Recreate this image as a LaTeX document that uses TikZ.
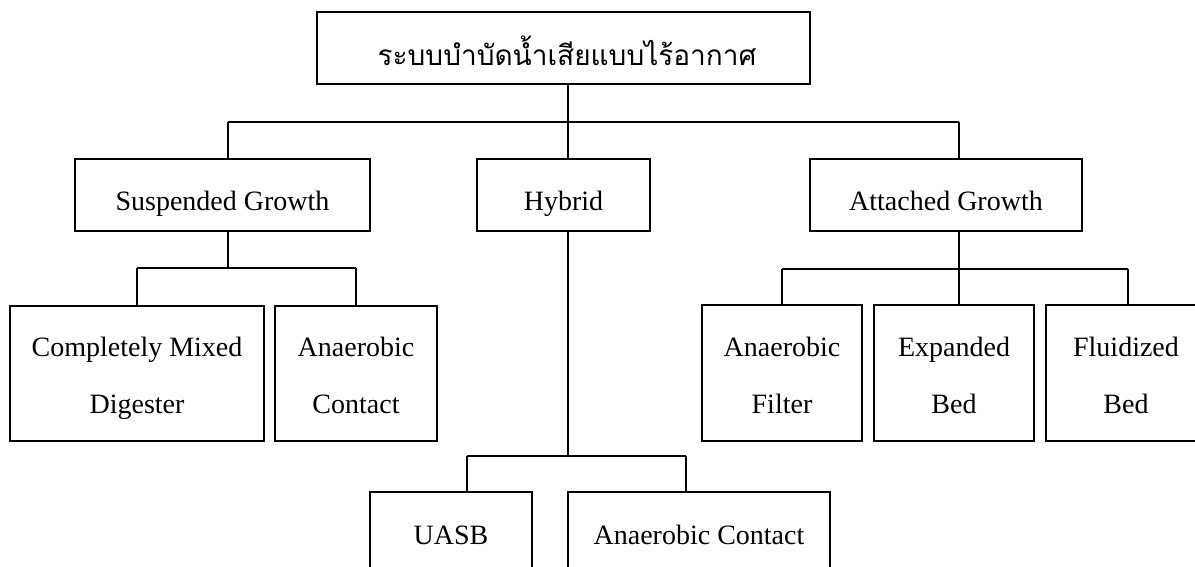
\documentclass[tikz,border=0pt]{standalone}
\usepackage{fontspec}
\setmainfont{Liberation Serif}
\newfontfamily\thaifont[Script=Thai]{Loma}
\begin{document}
\begin{tikzpicture}[x=1pt,y=-1pt,
  box/.style={draw,line width=1.4pt,rectangle,inner sep=0pt,minimum width=#1},
  lbl/.style={anchor=base,inner sep=0pt,font=\fontsize{28}{28}\selectfont},
  ln/.style={line width=1.4pt}]
\useasboundingbox (0,0) rectangle (1195,566);
\clip (0,0) rectangle (1195,566);
% boxes
\node[box=493pt,minimum height=72pt] (top) at (563.5,48) {};
\node[box=295pt,minimum height=72pt] (sg) at (222.5,195) {};
\node[box=173pt,minimum height=72pt] (hy) at (563.5,195) {};
\node[box=272pt,minimum height=72pt] (ag) at (946,195) {};
\node[box=254pt,minimum height=135pt] (cm) at (137,373.5) {};
\node[box=162pt,minimum height=135pt] (ac) at (356,373.5) {};
\node[box=160pt,minimum height=136pt] (af) at (782,373) {};
\node[box=160pt,minimum height=136pt] (eb) at (954,373) {};
\node[box=160pt,minimum height=136pt] (fb) at (1126,373) {};
\node[box=162pt,minimum height=110pt] (ua) at (451,547) {};
\node[box=262pt,minimum height=110pt] (an) at (699,547) {};
% texts
\node[lbl,font=\thaifont\fontsize{28}{28}\selectfont] (ttop) at (567,65) {ระบบบำบัดน้ำเสียแบบไร้อากาศ};
\node[lbl] (tsg) at (222.5,210) {Suspended Growth};
\node[lbl] (thy) at (563.5,210) {Hybrid};
\node[lbl] (tag) at (946,210) {Attached Growth};
\node[lbl] (tcm1) at (137,356) {Completely Mixed};
\node[lbl] (tcm2) at (137,413) {Digester};
\node[lbl] (tac1) at (356,356) {Anaerobic};
\node[lbl] (tac2) at (356,413) {Contact};
\node[lbl] (taf1) at (782,356) {Anaerobic};
\node[lbl] (taf2) at (782,413) {Filter};
\node[lbl] (teb1) at (954,356) {Expanded};
\node[lbl] (teb2) at (954,413) {Bed};
\node[lbl] (tfb1) at (1126,356) {Fluidized};
\node[lbl] (tfb2) at (1126,413) {Bed};
\node[lbl] (tua) at (451,544) {UASB};
\node[lbl] (tan) at (699,544) {Anaerobic Contact};
% junction coordinates
\coordinate (j0) at (568,122);
\coordinate (j0L) at (228,122);
\coordinate (j0R) at (959,122);
\coordinate (js) at (228,268);
\coordinate (jsL) at (137,268);
\coordinate (jsR) at (356,268);
\coordinate (ja) at (959,269);
\coordinate (jaL) at (782,269);
\coordinate (jaR) at (1128,269);
\coordinate (jh) at (568,456);
\coordinate (jhL) at (467,456);
\coordinate (jhR) at (686,456);
% connectors
\draw[ln] (top.south -| j0) -- (j0);
\draw[ln] (j0L) -- (j0R);
\draw[ln] (j0L) -- (sg.north -| j0L);
\draw[ln] (j0) -- (hy.north -| j0);
\draw[ln] (j0R) -- (ag.north -| j0R);
\draw[ln] (sg.south -| js) -- (js);
\draw[ln] (jsL) -- (jsR);
\draw[ln] (jsL) -- (cm.north -| jsL);
\draw[ln] (jsR) -- (ac.north -| jsR);
\draw[ln] (ag.south -| ja) -- (ja);
\draw[ln] (jaL) -- (jaR);
\draw[ln] (jaL) -- (af.north -| jaL);
\draw[ln] (ja) -- (eb.north -| ja);
\draw[ln] (jaR) -- (fb.north -| jaR);
\draw[ln] (hy.south -| jh) -- (jh);
\draw[ln] (jhL) -- (jhR);
\draw[ln] (jhL) -- (ua.north -| jhL);
\draw[ln] (jhR) -- (an.north -| jhR);
\end{tikzpicture}
\end{document}
